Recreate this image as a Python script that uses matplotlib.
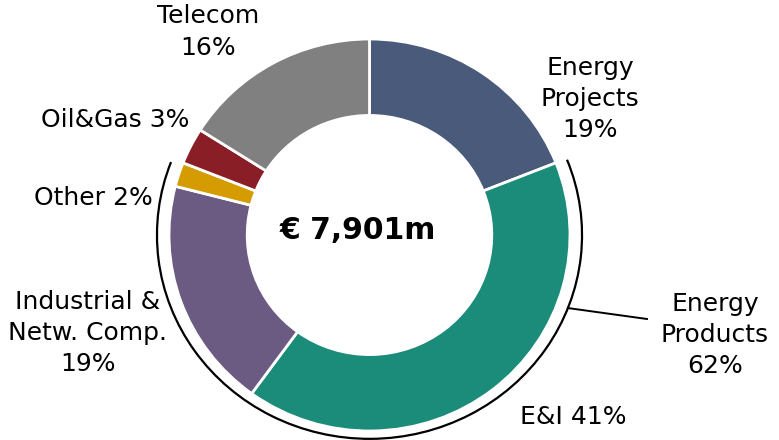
import numpy as np
import matplotlib
matplotlib.use("Agg")
from matplotlib import pyplot as plt
from matplotlib.patches import Arc

# segments, clockwise from 12 o'clock
segments = ["Energy Projects", "E&I", "Industrial & Netw. Comp.", "Other", "Oil&Gas", "Telecom"]
shares = [19, 41, 19, 2, 3, 16]
colors = ["#4a5a7a", "#1b8c7a", "#6b5a82", "#d49c00", "#8a1e27", "#808080"]
total_label = "€ 7,901m"

# group bracketed by the outer arc
group_name = "Energy\nProducts\n62%"
group_members = ["E&I", "Industrial & Netw. Comp.", "Other"]

labels = ["Energy\nProjects\n19%", "E&I 41%", "Industrial &\nNetw. Comp.\n19%",
          "Other 2%", "Oil&Gas 3%", "Telecom\n16%"]

W, H = 779, 440
# pie centre and radii in pixels (slightly squashed vertically like the original)
cx, cy, rx, ry = 369.5, 235, 200.5, 196

fig = plt.figure(figsize=(W / 100, H / 100), dpi=100)
ax = fig.add_axes([0, 0, 1, 1])

ax.pie(shares, colors=colors, startangle=90, counterclock=False,
       radius=1, wedgeprops=dict(width=0.39, edgecolor="white", linewidth=2))
ax.set_aspect("auto")
ax.set_xlim(-cx / rx, (W - cx) / rx)
ax.set_ylim(-(H - cy) / ry, cy / ry)
ax.axis("off")

# arc around the Energy Products segments
cum = np.concatenate([[0], np.cumsum(shares)]) / sum(shares) * 360
idx = [segments.index(s) for s in group_members]
a_start = 90 - cum[min(idx)]          # counter-clockwise end
a_end = 90 - cum[max(idx) + 1] + 360  # clockwise end
ax.add_patch(Arc((0, 0), 2 * 1.06, 2 * 1.04, theta1=a_end + 1, theta2=a_start + 360 - 0.3,
                 color="black", lw=1.6))
ang = np.deg2rad(-21)
x0, y0 = 1.06 * np.cos(ang), 1.04 * np.sin(ang)
ax.plot([x0, (647 - cx) / rx], [y0, (cy - 319) / ry], color="black", lw=1.4)


def at(px, py):
    return px / W, 1 - py / H


label_pos = [(590, 99), (573, 417), (88, 333), (93, 198), (115, 120), (208, 32)]
for lab, (px, py) in zip(labels, label_pos):
    fig.text(*at(px, py), lab, ha="center", va="center", fontsize=18,
             linespacing=1.38, family="DejaVu Sans")

fig.text(*at(715, 335), group_name, ha="center", va="center", fontsize=18,
         linespacing=1.38, family="DejaVu Sans")

fig.text(*at(358, 230), total_label, ha="center", va="center", fontsize=21.5,
         fontweight="bold", family="DejaVu Sans")

fig.savefig("out.png", dpi=100)
